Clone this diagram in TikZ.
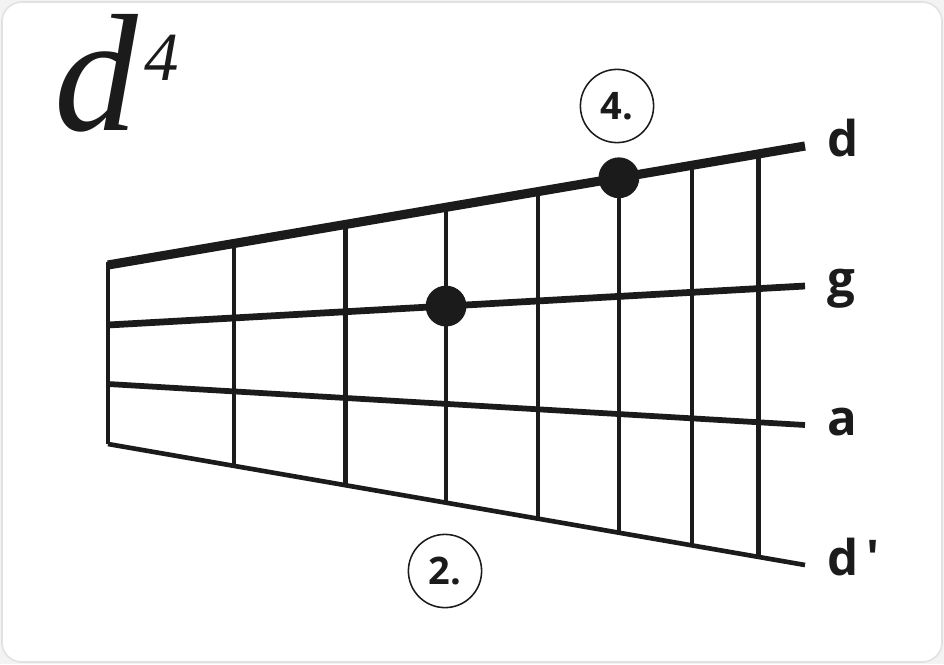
\documentclass[tikz,border=0pt]{standalone}
\usepackage{fontspec}
\setmainfont{Liberation Serif}
\newfontfamily\labelfont{Open Sans}
\usetikzlibrary{calc}
\definecolor{ink}{HTML}{1B1B1B}
\definecolor{frame}{HTML}{E2E2E2}

\tikzset{
  string/.style={draw=ink, line cap=butt},
  fret/.style={draw=ink, line width=3.3pt},
  dot/.style={circle, fill=ink, minimum size=1.02cm, inner sep=0pt},
  finger/.style={circle, draw=ink, line width=1.1pt, minimum size=1.83cm, inner sep=0pt,
    text=ink, font=\labelfont\bfseries\fontsize{27}{27}\selectfont},
  lbl/.style={anchor=base west, inner sep=0pt, text=ink,
    font=\labelfont\bfseries\fontsize{35}{35}\selectfont}
}

\begin{document}
\begin{tikzpicture}[x=0.025cm, y=-0.025cm]
	\useasboundingbox[fill=frame!40] (0,0) rectangle (944,664);
	\draw[frame, fill=white, line width=1.2pt, rounded corners=14pt] (2,2) rectangle (942,662);

	\node[anchor=base west, inner sep=0pt, text=ink] (title) at (54,130)
		{\fontsize{119}{119}\selectfont\itshape d\hspace{5pt}\raisebox{35pt}{\fontsize{49}{49}\selectfont 4}};

	\coordinate (dL) at (108,265); \coordinate (dR) at (805,146);
	\coordinate (gL) at (108,325); \coordinate (gR) at (805,286);
	\coordinate (aL) at (108,384); \coordinate (aR) at (805,425);
	\coordinate (eL) at (108,444); \coordinate (eR) at (805,565);

	\draw[fret] ($(dL)+(0,-3)$) -- (eL);
	\foreach \t in {0.181,0.341,0.485,0.617,0.733,0.838,0.933}
		\draw[fret] ($(dL)!\t!(dR)$) -- ($(eL)!\t!(eR)$);

	\draw[string, line width=6.5pt] (dL) -- (dR);
	\draw[string, line width=4.8pt] (gL) -- (gR);
	\draw[string, line width=4.1pt] (aL) -- (aR);
	\draw[string, line width=3.3pt] (eL) -- (eR);

	\node[dot] (g2) at ($(gL)!0.485!(gR)$) {};
	\node[dot] (d4) at ($(dL)!0.733!(dR)$) {};

	\node[finger] (f4) at (617,106) {4.};
	\node[finger] (f2) at (445,571) {2.};

	\path (dR) ++(22,10) node[lbl] (ld) {d};
	\path (gR) ++(22,10) node[lbl] (lg) {g};
	\path (aR) ++(22,10) node[lbl] (la) {a};
	\path (eR) ++(22,10) node[lbl] (le) {d\,\textquotesingle};
\end{tikzpicture}
\end{document}
